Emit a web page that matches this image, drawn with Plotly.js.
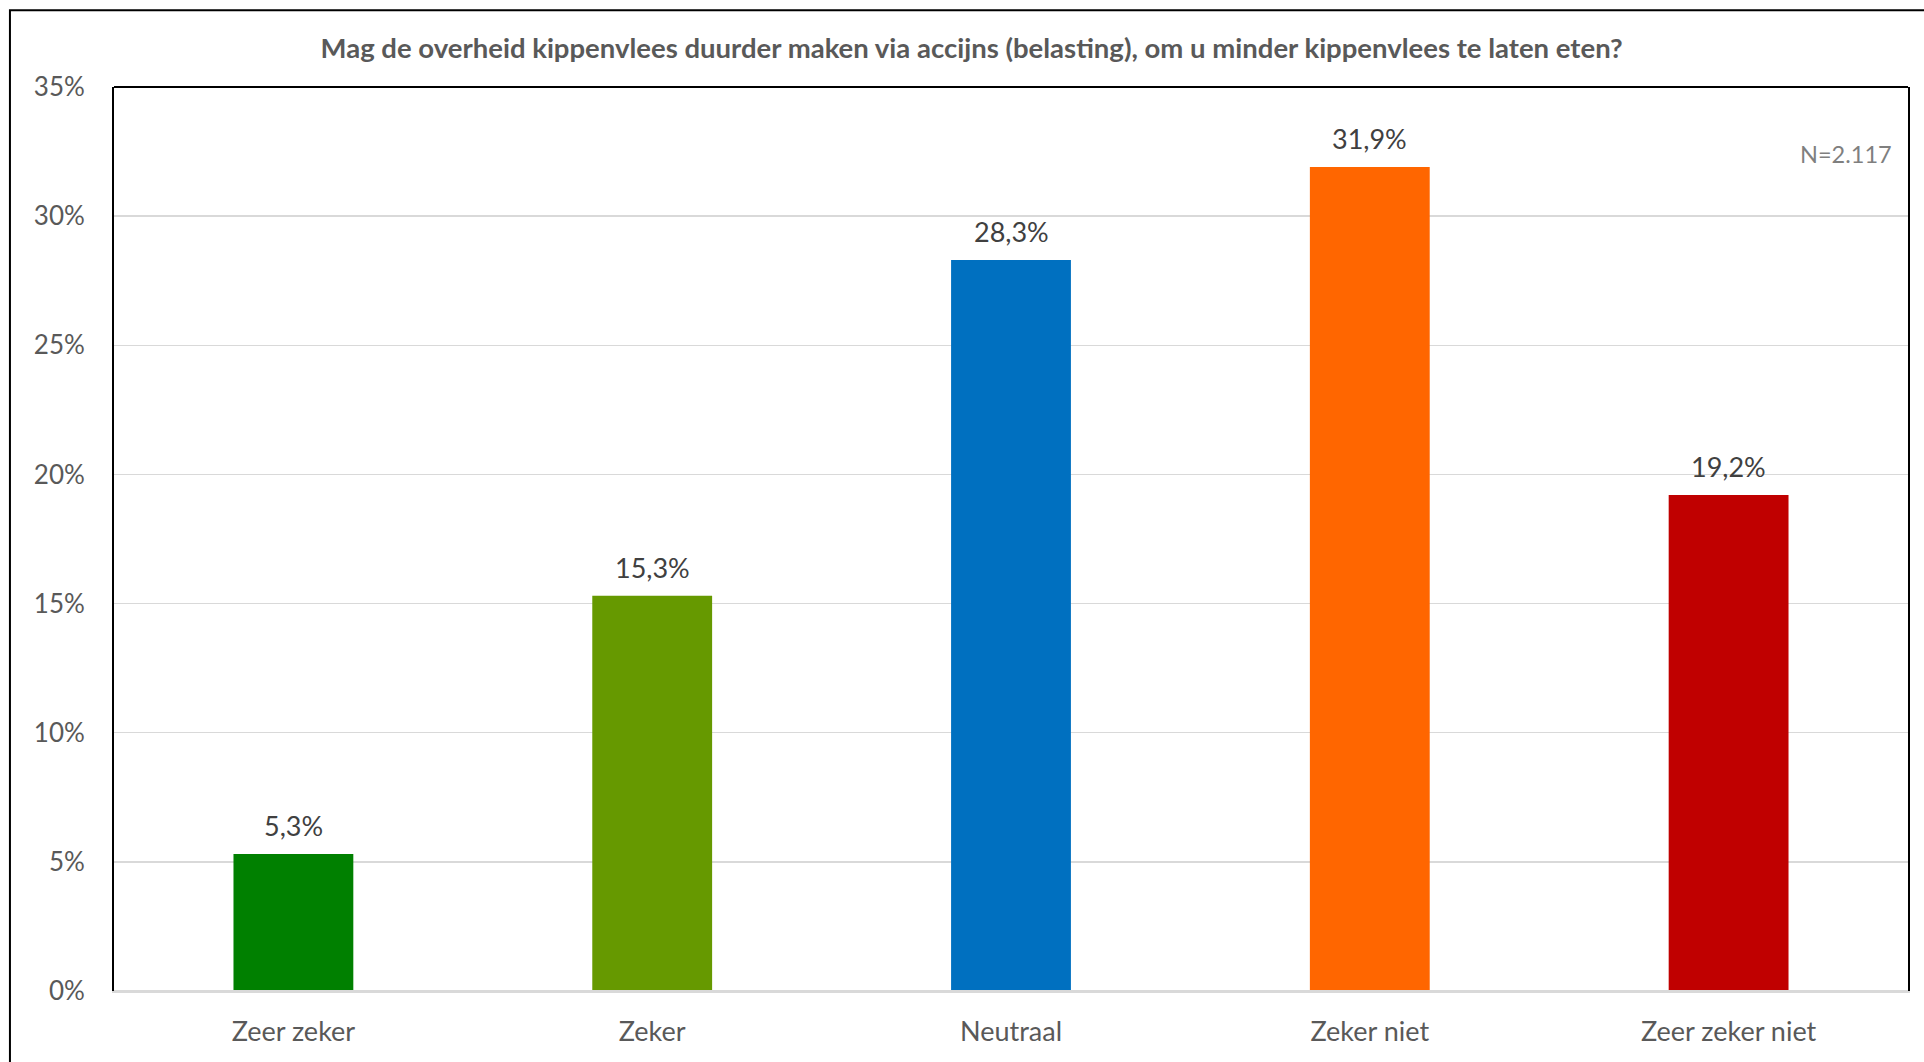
<!DOCTYPE html>
<html>
<head>
<meta charset="utf-8">
<script src="https://cdn.plot.ly/plotly-3.0.1.min.js"></script>
<style>
  html, body { margin: 0; padding: 0; background: #ffffff; }
  #chart { width: 1924px; height: 1062px; }
</style>
</head>
<body>
<div id="chart"></div>
<script>
const categories = ["Zeer zeker", "Zeker", "Neutraal", "Zeker niet", "Zeer zeker niet"];
const values = [0.053, 0.153, 0.283, 0.319, 0.192];
const valueLabels = ["5,3%", "15,3%", "28,3%", "31,9%", "19,2%"];
const barColors = ["#008000", "#669900", "#0070C0", "#FF6600", "#C00000"];
const yTickValues = [0, 0.05, 0.10, 0.15, 0.20, 0.25, 0.30, 0.35];
const titleText = "Mag de overheid kippenvlees duurder maken via accijns (belasting), om u minder kippenvlees te laten eten?";
const noteText = "N=2.117";

const fontFamily = "Lato, 'Open Sans', 'Noto Sans', sans-serif";

const trace = {
  type: "bar",
  x: categories,
  y: values,
  marker: { color: barColors, line: { width: 0 } },
  hoverinfo: "x+y"
};

const valueAnnotations = categories.map((c, i) => ({
  x: c,
  y: values[i],
  xref: "x",
  yref: "y",
  text: valueLabels[i],
  showarrow: false,
  xanchor: "center",
  yanchor: "bottom",
  yshift: 10,
  font: { family: fontFamily, size: 27, color: "#404040" }
}));

const layout = {
  width: 1924,
  height: 1062,
  separators: ",.",
  paper_bgcolor: "#ffffff",
  plot_bgcolor: "#ffffff",
  margin: { l: 114, r: 16, t: 87, b: 71, pad: 0 },
  bargap: 0.666,
  showlegend: false,
  title: {
    text: "<b>" + titleText + "</b>",
    font: { family: fontFamily, size: 27.5, color: "#595959" },
    x: 0.505,
    xanchor: "center",
    y: 0.954,
    yanchor: "middle"
  },
  xaxis: {
    type: "category",
    showline: true,
    linecolor: "#d9d9d9",
    linewidth: 2,
    showgrid: false,
    ticks: "",
    tickfont: { family: fontFamily, size: 27, color: "#595959" },
    ticklabelstandoff: 16
  },
  yaxis: {
    range: [0, 0.35],
    tickvals: yTickValues,
    tickformat: ".0%",
    showgrid: true,
    gridcolor: "#d9d9d9",
    gridwidth: 1.5,
    zeroline: false,
    showline: true,
    mirror: true,
    linecolor: "#000000",
    linewidth: 2,
    ticks: "",
    tickfont: { family: fontFamily, size: 26, color: "#595959" },
    ticklabelstandoff: 22
  },
  shapes: [
    {
      type: "line", xref: "paper", yref: "paper",
      x0: 0, x1: 1, y0: 1, y1: 1,
      line: { color: "#000000", width: 2 }
    },
    {
      type: "line", xref: "paper", yref: "paper",
      x0: 0, x1: 1, y0: 0, y1: 0,
      line: { color: "#d9d9d9", width: 2 }
    },
    {
      type: "rect", xref: "paper", yref: "paper",
      x0: -0.058, x1: 1.02, y0: -0.09, y1: 1.085,
      line: { color: "#000000", width: 2 },
      fillcolor: "rgba(0,0,0,0)"
    }
  ],
  annotations: valueAnnotations.concat([
    {
      text: noteText,
      xref: "paper", yref: "paper",
      x: 0.992, y: 0.926,
      xanchor: "right", yanchor: "middle",
      showarrow: false,
      font: { family: fontFamily, size: 23.5, color: "#7f7f7f" }
    }
  ])
};

Plotly.newPlot("chart", [trace], layout, { displayModeBar: false, staticPlot: true });
</script>
</body>
</html>
